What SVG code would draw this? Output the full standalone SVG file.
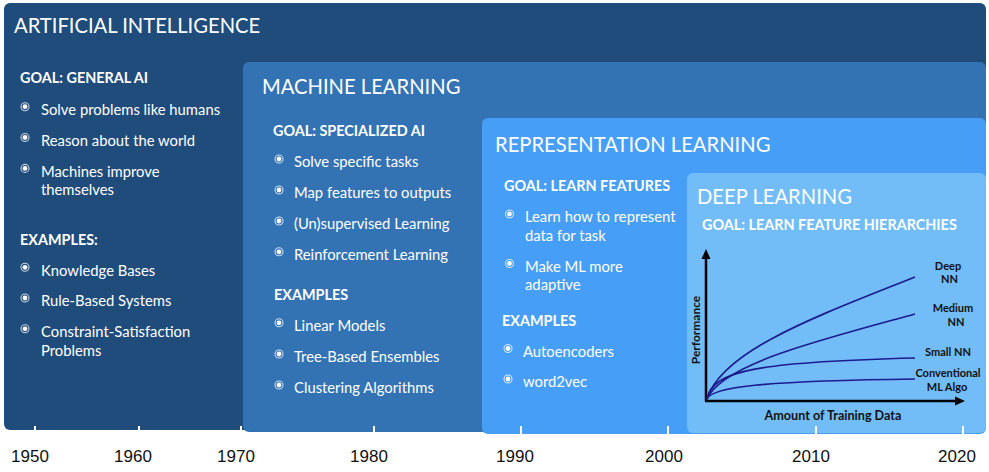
<svg xmlns="http://www.w3.org/2000/svg" xmlns:xlink="http://www.w3.org/1999/xlink" width="989" height="472" viewBox="0 0 989 472">
<style>
.t{font-family:Lato,"Noto Sans","Liberation Sans",sans-serif;fill:#fff}
.title{font-size:20.2px}
.h{font-size:14.4px;font-weight:bold}
.b{font-size:14.8px}
.lab{font-family:Lato,"Liberation Sans",sans-serif;font-size:11px;font-weight:bold;fill:#111;text-anchor:middle}
.yr{font-family:"Liberation Sans",Arial,sans-serif;font-size:17px;fill:#111;text-anchor:middle}
.curve{fill:none;stroke:#1c1c8f;stroke-width:1.7}
.axis{stroke:#000;stroke-width:2.5;fill:none}
.tick{fill:#fff}
</style>
<defs>
<g id="bul"><circle r="4" fill="none" stroke="#fff" stroke-opacity="0.75" stroke-width="1.1"/><circle r="2.4" fill="#fff"/></g>
</defs>
<g id="ai">
<rect x="4" y="3" width="982" height="427" rx="6" fill="#1f4c7b"/>
<text class="t title" x="14" y="33">ARTIFICIAL INTELLIGENCE</text>
<text class="t h" x="20" y="83">GOAL: GENERAL AI</text>
<use xlink:href="#bul" x="25" y="106.7"/><text class="t b" x="41" y="115">Solve problems like humans</text>
<use xlink:href="#bul" x="25" y="137.5"/><text class="t b" x="41" y="145.7">Reason about the world</text>
<use xlink:href="#bul" x="25" y="168.4"/><text class="t b" x="41" y="176.7">Machines improve</text>
<text class="t b" x="41" y="195.3">themselves</text>
<text class="t h" x="20" y="245">EXAMPLES:</text>
<use xlink:href="#bul" x="25" y="267.3"/><text class="t b" x="41" y="275.7">Knowledge Bases</text>
<use xlink:href="#bul" x="25" y="298"/><text class="t b" x="41" y="306.3">Rule-Based Systems</text>
<use xlink:href="#bul" x="25" y="328.8"/><text class="t b" x="41" y="337.2">Constraint-Satisfaction</text>
<text class="t b" x="41" y="356">Problems</text>
</g>
<g id="ml">
<rect x="243" y="62" width="743" height="370" rx="6" fill="#3373b4"/>
<text class="t title" x="262" y="94">MACHINE LEARNING</text>
<text class="t h" x="273" y="136">GOAL: SPECIALIZED AI</text>
<use xlink:href="#bul" x="279" y="159"/><text class="t b" x="294" y="167.3">Solve specific tasks</text>
<use xlink:href="#bul" x="279" y="190"/><text class="t b" x="294" y="198.3">Map features to outputs</text>
<use xlink:href="#bul" x="279" y="221"/><text class="t b" x="294" y="229.3">(Un)supervised Learning</text>
<use xlink:href="#bul" x="279" y="251.8"/><text class="t b" x="294" y="260">Reinforcement Learning</text>
<text class="t h" x="274" y="300">EXAMPLES</text>
<use xlink:href="#bul" x="279" y="322.8"/><text class="t b" x="294" y="331">Linear Models</text>
<use xlink:href="#bul" x="279" y="354"/><text class="t b" x="294" y="362.3">Tree-Based Ensembles</text>
<use xlink:href="#bul" x="279" y="385"/><text class="t b" x="294" y="393.3">Clustering Algorithms</text>
</g>
<g id="rl">
<rect x="482" y="118" width="504" height="316" rx="6" fill="#479ef6"/>
<text class="t title" x="495" y="152">REPRESENTATION LEARNING</text>
<text class="t h" x="504" y="191">GOAL: LEARN FEATURES</text>
<use xlink:href="#bul" x="509.5" y="214"/><text class="t b" x="525" y="222.3">Learn how to represent</text>
<text class="t b" x="525" y="240.7">data for task</text>
<use xlink:href="#bul" x="509.5" y="263.5"/><text class="t b" x="525" y="271.7">Make ML more</text>
<text class="t b" x="525" y="290">adaptive</text>
<text class="t h" x="502" y="326">EXAMPLES</text>
<use xlink:href="#bul" x="508" y="348.5"/><text class="t b" x="523" y="356.7">Autoencoders</text>
<use xlink:href="#bul" x="508" y="379"/><text class="t b" x="523" y="387.3">word2vec</text>
</g>
<g id="dl">
<rect x="687" y="173" width="299" height="260" rx="6" fill="#72bdf8"/>
<text class="t title" x="697" y="204">DEEP LEARNING</text>
<text class="t h" x="702" y="230">GOAL: LEARN FEATURE HIERARCHIES</text>
</g>
<g id="chart">
<path class="axis" d="M706,401 V258 M705,401 H956"/>
<path d="M706,249 L701.5,259 H710.5 Z M965,401 L955,396.5 V405.5 Z" fill="#000"/>
<path class="curve" d="M707,399 C722,350 820,315 915,277"/>
<path class="curve" d="M707,399 C722,364 820,340 915,314"/>
<path class="curve" d="M707,399 C712,370 760,362 915,358"/>
<path class="curve" d="M707,399 C712,387 760,381 915,379"/>
<text class="lab" x="948" y="269.5">Deep</text>
<text class="lab" x="949.5" y="282.7">NN</text>
<text class="lab" x="953" y="312">Medium</text>
<text class="lab" x="956" y="326">NN</text>
<text class="lab" x="948" y="355.7">Small NN</text>
<text class="lab" x="948" y="377.3">Conventional</text>
<text class="lab" x="947" y="390.7">ML Algo</text>
<text class="lab" transform="translate(699.5,330) rotate(-90)" style="font-size:12px">Performance</text>
<text class="lab" x="833" y="420" style="font-size:12.6px">Amount of Training Data</text>
</g>
<g id="timeline">
<rect class="tick" x="34" y="426" width="2" height="6"/>
<rect class="tick" x="138" y="426" width="2" height="6"/>
<rect class="tick" x="240" y="426" width="2" height="6"/>
<rect class="tick" x="373" y="426" width="2" height="8"/>
<rect class="tick" x="520" y="426" width="2" height="8"/>
<rect class="tick" x="667" y="426" width="2" height="8"/>
<rect class="tick" x="815" y="426" width="2" height="8"/>
<rect class="tick" x="962" y="426" width="2" height="8"/>
<text class="yr" x="30" y="461.5">1950</text>
<text class="yr" x="133" y="461.5">1960</text>
<text class="yr" x="236" y="461.5">1970</text>
<text class="yr" x="369" y="461.5">1980</text>
<text class="yr" x="515" y="461.5">1990</text>
<text class="yr" x="664" y="461.5">2000</text>
<text class="yr" x="811" y="461.5">2010</text>
<text class="yr" x="957" y="461.5">2020</text>
</g>
</svg>
